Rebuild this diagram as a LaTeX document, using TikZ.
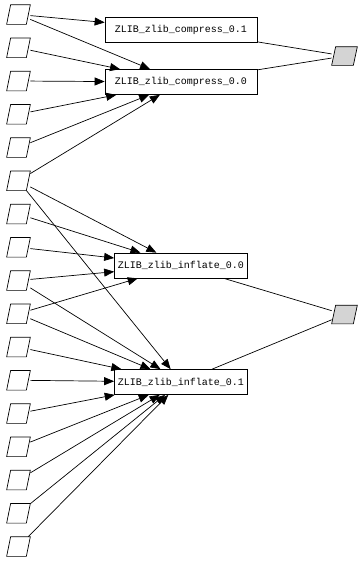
\documentclass[tikz,border=0pt]{standalone}
\usepackage{fontspec}
\setmonofont{Liberation Mono}
\usepackage{xcolor}
\usepackage{tikz}
\usetikzlibrary{shapes, arrows.meta, positioning}

\begin{document}
\begin{tikzpicture}[x=1pt, y=1pt, node distance=33.25pt, line width=0.7pt,
        fn/.style={draw, rectangle, inner sep=0pt, minimum height=25pt, font=\ttfamily\fontsize{10}{12}\selectfont},
        src/.style={rectangle, inner sep=0pt, minimum width=23pt, minimum height=19pt,
            append after command={\pgfextra{\draw[#1] (\tikzlastnode.south west) -- ([xshift=-4pt]\tikzlastnode.south east)
                -- (\tikzlastnode.north east) -- ([xshift=4pt]\tikzlastnode.north west) -- cycle;}}},
        src/.default={},
        res/.style={src={fill=black!17}, minimum width=25pt, minimum height=18pt},
        dep/.style={-{Triangle[length=10pt, width=8pt]}}]
        \useasboundingbox (0,0) rectangle (362,-562);

        % inputs
        \node (in1) [src] at (18.5,-14.5) {};
        \node (in2) [src, below of=in1] {};
        \node (in3) [src, below of=in2] {};
        \node (in4) [src, below of=in3] {};
        \node (in5) [src, below of=in4] {};
        \node (in6) [src, below of=in5] {};
        \node (in7) [src, below of=in6] {};
        \node (in8) [src, below of=in7] {};
        \node (in9) [src, below of=in8] {};
        \node (in10) [src, below of=in9] {};
        \node (in11) [src, below of=in10] {};
        \node (in12) [src, below of=in11] {};
        \node (in13) [src, below of=in12] {};
        \node (in14) [src, below of=in13] {};
        \node (in15) [src, below of=in14] {};
        \node (in16) [src, below of=in15] {};
        \node (in17) [src, below of=in16] {};

        % functions
        \node (cmp1) [fn, minimum width=152pt] at (181,-29.5) {ZLIB\_zlib\_compress\_0.1};
        \node (cmp0) [fn, minimum width=152pt] at (181,-82) {ZLIB\_zlib\_compress\_0.0};
        \node (inf0) [fn, minimum width=133pt] at (181,-265.5) {ZLIB\_zlib\_inflate\_0.0};
        \node (inf1) [fn, minimum width=133pt] at (181,-382) {ZLIB\_zlib\_inflate\_0.1};

        % results
        \node (outc) [res] at (344.5,-56) {};
        \node (outi) [res] at (344.5,-314.5) {};

        \draw[dep] (in1) -- (cmp1);
        \draw[dep] (in1) -- (cmp0);
        \draw[dep] (in2) -- (cmp0);
        \draw[dep] (in3) -- (cmp0);
        \draw[dep] (in4) -- (cmp0);
        \draw[dep] (in5) -- (cmp0);
        \draw[dep] (in6) -- (cmp0);
        \draw[dep] (in6) -- (inf0);
        \draw[dep] (in6) -- (inf1);
        \draw[dep] (in7) -- (inf0);
        \draw[dep] (in8) -- (inf0);
        \draw[dep] (in9) -- (inf0);
        \draw[dep] (in9) -- (inf1);
        \draw[dep] (in10) -- (inf0);
        \draw[dep] (in10) -- (inf1);
        \draw[dep] (in11) -- (inf1);
        \draw[dep] (in12) -- (inf1);
        \draw[dep] (in13) -- (inf1);
        \draw[dep] (in14) -- (inf1);
        \draw[dep] (in15) -- (inf1);
        \draw[dep] (in16) -- (inf1);
        \draw[dep] (in17) -- (inf1);

        \draw (cmp1) -- (outc);
        \draw (cmp0) -- (outc);
        \draw (inf0) -- (outi);
        \draw (inf1) -- (outi);
    \end{tikzpicture}
\end{document}
